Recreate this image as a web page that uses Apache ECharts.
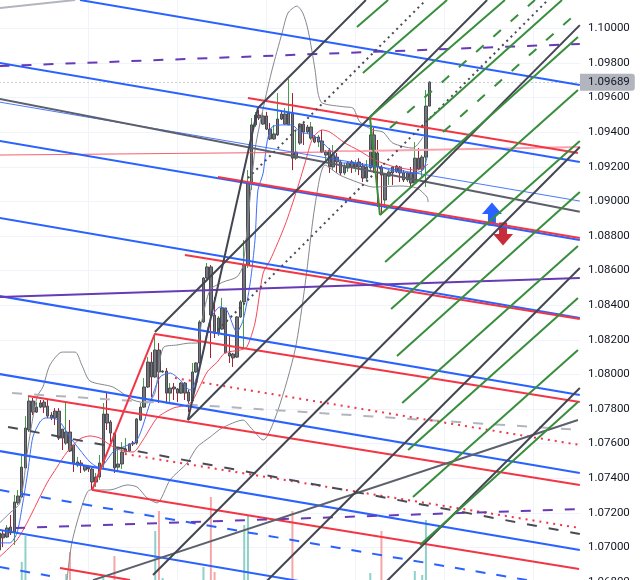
<!DOCTYPE html>
<html><head><meta charset="utf-8">
<style>html,body{margin:0;padding:0;background:#fff}#c{width:642px;height:580px}</style>
<script src="https://cdn.jsdelivr.net/npm/echarts@6/dist/echarts.min.js"></script>
</head><body><div id="c"></div>
<script>
// [open, close, low, high], one per bar, bar index = position in the list
const candles = [
[1.06985,1.07083,1.06968,1.07101],[1.07078,1.07055,1.07002,1.07101],[1.0706,1.07112,1.07055,1.07129],[1.07118,1.07083,1.07072,1.07187],
[1.07089,1.07262,1.07014,1.07303],[1.07257,1.07297,1.07245,1.07332],[1.07291,1.07464,1.07286,1.07534],[1.07459,1.0769,1.07459,1.07759],
[1.07679,1.07846,1.07667,1.07869],[1.07846,1.07782,1.07765,1.07864],[1.07782,1.07811,1.07777,1.0784],[1.07835,1.07811,1.07805,1.07852],
[1.0784,1.07811,1.07777,1.07852],[1.07817,1.07759,1.07748,1.07852],[1.07765,1.07748,1.07736,1.07782],[1.07788,1.07748,1.07707,1.07805],
[1.07788,1.07632,1.07621,1.07805],[1.07684,1.07632,1.07563,1.07684],[1.07603,1.07667,1.07592,1.0784],[1.07667,1.07557,1.07551,1.07736],
[1.07592,1.07488,1.07436,1.07592],[1.07476,1.07494,1.07464,1.07523],[1.07488,1.07476,1.0743,1.07505],[1.07447,1.07471,1.07436,1.07476],
[1.07464,1.07453,1.07436,1.07471],[1.07453,1.07378,1.07332,1.07459],[1.07378,1.07407,1.07349,1.0743],[1.07407,1.07488,1.0739,1.07534],
[1.07488,1.07771,1.07453,1.07835],[1.07771,1.07719,1.07679,1.07898],[1.07725,1.07661,1.07609,1.07736],[1.07661,1.07459,1.0743,1.07661],
[1.07464,1.07482,1.07436,1.07575],[1.07482,1.07551,1.07453,1.07609],[1.07551,1.07569,1.07551,1.07632],[1.07557,1.07598,1.07551,1.07603],
[1.07603,1.07598,1.07586,1.07615],[1.07603,1.07742,1.07592,1.07748],[1.07736,1.07811,1.0773,1.07835],[1.07811,1.07927,1.07805,1.07979],
[1.07927,1.08071,1.07921,1.081],[1.08071,1.07985,1.07869,1.08129],[1.07985,1.08141,1.07979,1.08239],[1.08141,1.08014,1.07835,1.08181],
[1.08014,1.08019,1.08008,1.08025],[1.08019,1.07892,1.07835,1.08037],[1.07892,1.07921,1.07835,1.0795],[1.07927,1.07916,1.07852,1.0795],
[1.07916,1.07892,1.0784,1.07921],[1.07892,1.0795,1.07887,1.07956],[1.0795,1.07892,1.07852,1.07956],[1.07898,1.07846,1.07782,1.0791],
[1.07846,1.08014,1.07835,1.08066],[1.08014,1.08066,1.08008,1.08071],[1.08066,1.08303,1.08054,1.08314],[1.08303,1.08557,1.08297,1.08563],
[1.08557,1.08621,1.08546,1.08644],[1.08621,1.08343,1.08095,1.08632],[1.08343,1.08239,1.0821,1.08447],[1.08239,1.08326,1.08222,1.08337],
[1.08262,1.08384,1.08257,1.08442],[1.08384,1.08124,1.08124,1.08384],[1.08124,1.08106,1.08066,1.08228],[1.08118,1.08095,1.08043,1.08124],
[1.081,1.08332,1.08095,1.08337],[1.08332,1.08419,1.08326,1.0843],[1.08419,1.08632,1.08153,1.08777],[1.08632,1.09106,1.08615,1.09181],
[1.09106,1.09442,1.09066,1.09482],[1.09442,1.09499,1.0943,1.09517],[1.09499,1.09482,1.0947,1.09528],[1.09447,1.09494,1.09442,1.09517],
[1.09494,1.09418,1.09413,1.09517],[1.09418,1.09361,1.09355,1.09453],[1.09361,1.0939,1.09355,1.09442],[1.09384,1.09476,1.09378,1.09626],
[1.09505,1.09476,1.0947,1.09528],[1.09447,1.09505,1.09442,1.0954],[1.09442,1.09511,1.09442,1.09707],[1.09511,1.0925,1.09181,1.09626],
[1.0925,1.09285,1.09239,1.09413],[1.09337,1.09447,1.09326,1.09453],[1.09447,1.09401,1.09326,1.09459],[1.0943,1.09401,1.09395,1.09442],
[1.09366,1.0943,1.09355,1.09459],[1.09372,1.09343,1.09337,1.09384],[1.09343,1.09372,1.09314,1.09384],[1.09349,1.09285,1.0928,1.09413],
[1.09268,1.09285,1.09239,1.09297],[1.09297,1.09199,1.09164,1.09308],[1.09199,1.09268,1.09181,1.09326],[1.09256,1.09228,1.09164,1.0928],
[1.09228,1.09164,1.09152,1.09239],[1.09164,1.09199,1.09152,1.09222],[1.09193,1.09222,1.0917,1.09233],[1.09228,1.09199,1.09164,1.09239],
[1.09199,1.09222,1.0917,1.09239],[1.09228,1.09199,1.09152,1.0925],[1.09204,1.09135,1.09112,1.09222],[1.09135,1.09199,1.09124,1.09239],
[1.09193,1.09384,1.0917,1.0947],[1.09384,1.09199,1.09164,1.09424],[1.0928,1.09199,1.08968,1.09355],[1.09199,1.09152,1.08921,1.0921],
[1.09008,1.09158,1.08962,1.09158],[1.09146,1.0917,1.09095,1.09181],[1.09199,1.09164,1.09095,1.09204],[1.09204,1.0917,1.09164,1.0921],
[1.09199,1.09164,1.09112,1.09204],[1.09164,1.09124,1.09112,1.09181],[1.09124,1.09164,1.09112,1.0917],[1.09164,1.09106,1.09077,1.09199],
[1.09106,1.0925,1.09095,1.09343],[1.0925,1.09187,1.09181,1.09308],[1.09187,1.09256,1.09141,1.09268],[1.09256,1.09551,1.09083,1.09644],
[1.09551,1.09689,1.09551,1.09695]
];
const lastPrice = 1.09689;
const yTicksMin = 1.068, yTicksMax = 1.102, yTickStep = 0.002;

// [bar, volume]
const volumeUp = [[6,20],[7,46],[18,8],[28,4],[42,51],[44,4],[55,15],[66,57],[67,66],[100,9],[112,11],[114,7],[115,62]];
const volumeDown = [[19,30],[31,26],[43,71],[57,85],[58,10],[79,71],[103,51]];

// [bar, price]
const fastMA = [[0,1.07026],[2.8,1.07026],[4.7,1.07083],[6.1,1.07234],[7.7,1.07447],[9,1.07638],[10.9,1.07725],[12.3,1.07748],[14.4,1.07748],[16.3,1.07725],[19,1.07638],[21.7,1.07563],[24.4,1.07494],[27.1,1.07459],[29,1.07505],[30.6,1.07551],[33.3,1.0758],[37.1,1.07621],[40.6,1.07835],[43.3,1.07985],[46,1.08008],[48.7,1.07968],[51.4,1.0791],[52.2,1.07921],[54.6,1.081],[56.8,1.08314],[59.5,1.0839],[61.3,1.08372],[64,1.08245],[65.7,1.08314],[67.6,1.08528],[68.9,1.08777],[69.7,1.09066],[71.1,1.09164],[72.1,1.09337],[73.5,1.0943],[76.5,1.09442],[78.9,1.09442],[81,1.09401],[84.5,1.09384],[87.8,1.09326],[89.9,1.0928],[92.6,1.09222],[95.3,1.09222],[100.7,1.09199],[102.6,1.09199],[105.3,1.09181],[108,1.0917],[111.5,1.09164],[114.2,1.09181],[115.3,1.09256]];
const slowMA = [[0,1.06945],[4.7,1.07043],[7.4,1.07141],[10.1,1.07257],[12.8,1.07372],[15.5,1.07464],[18.2,1.07551],[21.7,1.07627],[24.4,1.07644],[27.1,1.07632],[29.8,1.07592],[32.5,1.07563],[36,1.07551],[38.7,1.07621],[42.5,1.07748],[46.8,1.07805],[50.6,1.07823],[52.2,1.07852],[56,1.08014],[58.7,1.08071],[60.8,1.08124],[64.9,1.08141],[66.7,1.08158],[68.9,1.08297],[71.1,1.08586],[73,1.08661],[77,1.08863],[80.2,1.09066],[82.4,1.09222],[84.5,1.09366],[87,1.09413],[89.1,1.09401],[93.2,1.09337],[96.7,1.09297],[101.3,1.09239],[106.7,1.09199],[112.6,1.09181],[115.6,1.09216]];
const bandUpper = [[0,1.07141],[2.8,1.07199],[5.5,1.07257],[7.7,1.0758],[10.1,1.07869],[11.7,1.07927],[13.6,1.08054],[16.9,1.08129],[20.4,1.08129],[22.2,1.08054],[24.4,1.07962],[30.6,1.07927],[36,1.07852],[39.8,1.07835],[41.9,1.07892],[44.1,1.08153],[47.9,1.0817],[51.4,1.08181],[53.3,1.08181],[54.6,1.08314],[56.8,1.08488],[60.3,1.08534],[64,1.08563],[65.7,1.08632],[68.9,1.09297],[71.6,1.09586],[73.5,1.0976],[76.2,1.09973],[77.8,1.10089],[80.2,1.10129],[81.8,1.10089],[83.2,1.09991],[85.1,1.0976],[85.9,1.09626],[87,1.09569],[93.2,1.09546],[95.3,1.0954],[97.2,1.09459],[100.7,1.09413],[103.4,1.09401],[106.1,1.09337],[111.5,1.09308],[114.2,1.09372]];
const bandLower = [[18.2,1.06811],[19.5,1.07026],[22.5,1.07257],[24.4,1.07332],[29.8,1.07332],[34.4,1.07361],[37.1,1.07349],[39.8,1.07286],[42.5,1.07257],[46,1.0739],[50.6,1.07488],[53.3,1.0758],[56.8,1.07638],[60,1.0769],[65.7,1.07736],[67.6,1.07696],[71.1,1.07621],[75.1,1.07794],[79.7,1.08141],[82.4,1.08517],[85.1,1.08979],[87.8,1.0921],[91.8,1.09152],[96.4,1.09112],[100.7,1.09083],[108,1.09089],[112.6,1.09077],[115.3,1.09025],[115.6,1.08996]];

// trend lines: [bar1, price1, bar2, price2]
const blueLines = [[21.7,1.10164,156.5,1.09673],[0,1.098,156.5,1.09228],[0,1.09349,156.5,1.08777],[0,1.08904,156.5,1.08326],[0,1.08453,156.5,1.07881],[0,1.08002,156.5,1.0743],[0,1.07557,156.5,1.06985],[0,1.07101,91.8,1.06765]];
const blueThin = [[0,1.09574,156.5,1.09002]];
const blueDashed = [[0,1.07332,142.3,1.06811],[0,1.06887,13.6,1.06835]];
const redLines = [[67,1.09598,156,1.0928],[58.9,1.09141,156.5,1.08788],[50,1.0869,156.5,1.0832],[41.9,1.08234,156.5,1.0784],[7.7,1.07875,156.5,1.07361],[25,1.07332,156.3,1.06875],[16.3,1.06881,35.2,1.06811],[25,1.07332,41.9,1.08234]];
const redDotted = [[33.8,1.0754,156.5,1.07112],[47.3,1.07979,156.5,1.07592]];
const redThin = [[0,1.09268,87,1.09285],[87,1.09291,98,1.09291]];
const pinkLines = [[98,1.09291,156.5,1.09314]];
const darkLines = [[41.9,1.08245,131.5,1.10164],[69.7,1.0954,98.8,1.10164],[50.8,1.07736,156.5,1.10019],[41.4,1.0684,156.5,1.09314],[72.1,1.06806,156.5,1.08615],[104.5,1.06806,156.5,1.07921],[50.8,1.07736,69.7,1.0954]];
const darkDotted = [[67,1.09135,115,1.10164],[58.9,1.08257,147.9,1.10164]];
const darkDashed = [[2.3,1.07696,156.5,1.07077]];
const grayLines = [[0,1.09592,156.5,1.0894],[25.2,1.06811,156,1.07736]];
const lightSolid = [[0,1.10118,20.4,1.10164]];
const lightDashed = [[3.4,1.07892,156.5,1.07679]];
const purpleSolid = [[0,1.08447,156.5,1.08557]];
const purpleDashed = [[0,1.09782,156.5,1.0991],[4.2,1.07112,156.5,1.07222]];
const greenLines = [[96.4,1.10008,104.8,1.10164],[98,1.09742,120.7,1.10164],[99.9,1.09488,136.3,1.10164],[102.6,1.08921,156,1.0995],[115.6,1.0947,151.7,1.10164],[104,1.0865,156,1.09644],[105.6,1.08378,156.5,1.09349],[107.2,1.08106,156.5,1.09054],[108.6,1.07835,156,1.08742],[110.2,1.07563,156,1.08442],[111.5,1.07291,156,1.08141],[113.4,1.07014,156,1.0784],[99.9,1.09488,102.6,1.08921]];
const greenDashed = [[105.3,1.09424,144.4,1.10164],[119.6,1.09401,156,1.10095]];
// trade arrows: [bar, price]
const arrowUp = [[132.8,1.08927]];
const arrowDown = [[135.8,1.08811]];

const series = [];
function seg(list, color, width, type, opacity, z) {
  list.forEach(l => series.push({
    type:'line', data:[[l[0],l[1]],[l[2],l[3]]], symbol:'none', silent:true, z:z||6,
    lineStyle:{color, width, type:type||'solid', opacity:opacity==null?1:opacity}
  }));
}
function curve(d, color, width) {
  series.push({type:'line', data:d, symbol:'none', smooth:0.25, silent:true, z:5, lineStyle:{color, width}});
}
series.push({type:'bar', yAxisIndex:1, data:volumeUp, barWidth:2, barGap:'-100%', itemStyle:{color:'#8fd0c9'}, z:1, silent:true});
series.push({type:'bar', yAxisIndex:1, data:volumeDown, barWidth:2, barGap:'-100%', itemStyle:{color:'#f5a7a7'}, z:1, silent:true});
series.push({type:'candlestick', data:candles.map((c,i)=>[i,c[0],c[1],c[2],c[3]]), barWidth:1, z:2, silent:true,
  itemStyle:{color:'#43a047',color0:'#a81e30',borderColor:'#43a047',borderColor0:'#a81e30',borderWidth:1}});
series.push({type:'candlestick', data:candles.map((c,i)=>[i,c[0],c[1],Math.min(c[0],c[1]),Math.max(c[0],c[1])]), barWidth:3, z:3, silent:true,
  itemStyle:{color:'#72757c',color0:'#72757c',borderColor:'#4b4c52',borderColor0:'#4b4c52',borderWidth:1}});
series.push({type:'scatter', data:arrowUp, symbol:'path://M10 0 L20 12 L14 12 L14 24 L6 24 L6 12 L0 12 Z', symbolSize:[20,23], itemStyle:{color:'#2962ff',opacity:1}, z:4, silent:true});
series.push({type:'scatter', data:arrowDown, symbol:'path://M6 0 L14 0 L14 12 L20 12 L10 24 L0 12 L6 12 Z', symbolSize:[20,23], itemStyle:{color:'#c72c3b',opacity:1}, z:4, silent:true});
curve(bandUpper,'#85878f',1); curve(bandLower,'#85878f',1);
curve(slowMA,'#f5475a',1); curve(fastMA,'#3d6ff5',1);
seg(lightSolid,'#b2b5be',2);
seg(lightDashed,'#b2b5be',2,[10,12]);
seg(pinkLines,'#f9a3ac',2);
seg(redThin,'#f6606f',1);
seg(blueThin,'#2962ff',1,'solid',0.85);
seg(blueLines,'#2962ff',2);
seg(blueDashed,'#2962ff',2,[10,11]);
seg(redLines,'#f23645',2);
seg(redDotted,'#f23645',2,[2,5]);
seg(purpleSolid,'#673ab7',2);
seg(purpleDashed,'#673ab7',2,[10,12]);
seg(grayLines,'#5d606b',2);
seg(darkDashed,'#4a4a55',2,[10,12]);
seg(darkDotted,'#4a4a55',2,[2,4]);
seg(darkLines,'#434651',2);
seg(greenLines,'#388e3c',2);
seg(greenDashed,'#388e3c',2,[10,13]);
series.push({type:'line', data:[], silent:true, z:7,
  markLine:{silent:true, symbol:'none', animation:false, precision:5,
    lineStyle:{color:'#9598a1',type:[1,3],width:1},
    label:{show:true, position:'end', distance:0, formatter:lastPrice.toFixed(5), color:'#131722', backgroundColor:'#b2b5be',
      fontFamily:'Roboto', fontSize:11.5, padding:[3,5,2,8], borderRadius:[0,3,3,0]},
    data:[{yAxis:lastPrice}]}});

const grid = {color:'#f0f3fa', width:1};
const chart = echarts.init(document.getElementById('c'), null, {renderer:'canvas'});
chart.setOption({
  animation:false, backgroundColor:'#fff', tooltip:{show:false}, legend:{show:false},
  grid:{left:-0.5, width:580.5, top:-6.2, height:588.2, containLabel:false, outerBoundsMode:'none'},
  xAxis:{type:'value', min:0, max:156.55, interval:24,
    axisLine:{show:false}, axisTick:{show:false}, axisLabel:{show:false},
    splitLine:{show:true, lineStyle:grid, showMinLine:false, showMaxLine:false}},
  yAxis:[
    {type:'value', position:'right', min:yTicksMin, max:yTicksMax, interval:yTickStep,
     axisLine:{show:false}, axisTick:{show:false},
     axisLabel:{formatter:v=>v.toFixed(5), color:'#131722', fontFamily:'Roboto', fontSize:11.5, margin:8},
     splitLine:{show:true, lineStyle:grid}},
    {type:'value', show:false, min:0, max:588.2, splitLine:{show:false}}
  ],
  series
});
</script></body></html>
